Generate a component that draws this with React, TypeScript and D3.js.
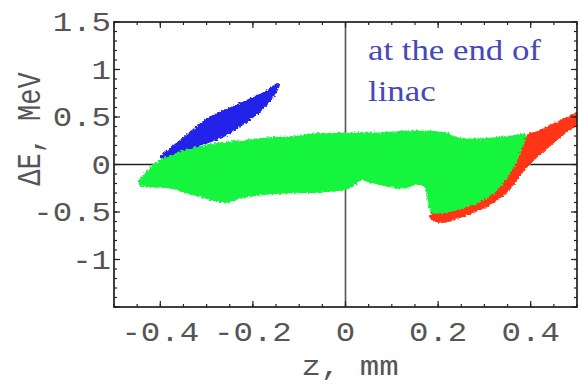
import React from 'react';
import * as d3 from 'd3';

// outlines of the three particle clouds, [z (mm), dE (MeV)]
const blueCloud: [number, number][] = [
  [-0.4, 0.084], [-0.378, 0.18], [-0.351, 0.285], [-0.299, 0.486], [-0.249, 0.602],
  [-0.206, 0.697], [-0.17, 0.781], [-0.148, 0.855], [-0.142, 0.845], [-0.157, 0.697],
  [-0.185, 0.549], [-0.222, 0.412], [-0.256, 0.306], [-0.299, 0.222], [-0.335, 0.169],
  [-0.378, 0.095], [-0.4, 0.063]
];

const redCloud: [number, number][] = [
  [0.389, 0.306], [0.417, 0.359], [0.449, 0.433], [0.482, 0.507], [0.499, 0.539],
  [0.499, 0.412], [0.475, 0.327], [0.439, 0.18], [0.402, 0.021], [0.381, -0.095],
  [0.353, -0.275], [0.31, -0.433], [0.26, -0.539], [0.213, -0.612], [0.187, -0.591],
  [0.181, -0.528], [0.202, -0.486], [0.245, -0.433], [0.288, -0.348], [0.327, -0.222],
  [0.357, -0.032], [0.374, 0.148]
];

const greenCloud: [number, number][] = [
  [-0.449, -0.19], [-0.432, -0.084], [-0.406, 0.032], [-0.357, 0.137], [-0.299, 0.211],
  [-0.228, 0.253], [-0.17, 0.285], [-0.099, 0.306], [-0.071, 0.327], [0.002, 0.338],
  [0.073, 0.338], [0.144, 0.359], [0.217, 0.338], [0.245, 0.285], [0.288, 0.275],
  [0.359, 0.306], [0.389, 0.317], [0.378, 0.127], [0.357, -0.084], [0.327, -0.275],
  [0.288, -0.401], [0.245, -0.475], [0.202, -0.517], [0.185, -0.507], [0.178, -0.38],
  [0.172, -0.253], [0.159, -0.211], [0.123, -0.253], [0.052, -0.19], [0.034, -0.169],
  [0.009, -0.253], [-0.056, -0.296], [-0.127, -0.306], [-0.185, -0.327], [-0.228, -0.359],
  [-0.256, -0.401], [-0.286, -0.38], [-0.342, -0.306], [-0.378, -0.253], [-0.415, -0.243],
  [-0.443, -0.222]
];

const xTickLabels = [-0.4, -0.2, 0, 0.2, 0.4];
const yTickLabels = [1.5, 1, 0.5, 0, -0.5, -1];
const xTitle = 'z, mm';
const yTitle = '\u0394E, MeV';
const note = ['at the end of', 'linac'];

const W = 581;
const H = 384;
const mono = '"Liberation Mono", "DejaVu Sans Mono", monospace';
const serif = '"Liberation Serif", "DejaVu Serif", serif';
const SX = 1.2; // the original is stretched sideways

export default function App() {
  const x = d3.scaleLinear().domain([-0.5, 0.5]).range([114, 577]);
  const y = d3.scaleLinear().domain([-1.5, 1.5]).range([307, 22]);
  const [x0, x1] = x.range();
  const [y0, y1] = y.range();

  const outline = d3.line<[number, number]>()
    .x(d => x(d[0]))
    .y(d => y(d[1]))
    .curve(d3.curveCatmullRomClosed.alpha(0.5));

  const xMajor = x.ticks(5);
  const xMinor = d3.range(-0.5, 0.5001, 0.05);
  const yMajor = d3.range(-1.5, 1.5001, 0.5);
  const yMinor = d3.range(-1.5, 1.5001, 0.1);

  const fmt = (v: number) => (Math.abs(v) < 1e-9 ? '0' : d3.format('')(+v.toFixed(2)).replace('\u2212', '-'));

  return (
    <svg width={W} height={H} style={{ position: 'absolute', left: 0, top: 0, background: '#fff' }}>
      <defs>
        <clipPath id="plot">
          <rect x={x0} y={y1} width={x1 - x0} height={y0 - y1} />
        </clipPath>
        <filter id="rough" x="-5%" y="-5%" width="110%" height="110%">
          <feTurbulence type="fractalNoise" baseFrequency="0.5" numOctaves="2" seed="3" />
          <feDisplacementMap in="SourceGraphic" scale="5" xChannelSelector="R" yChannelSelector="G" />
        </filter>
      </defs>

      {/* zero lines */}
      <line x1={x(0)} x2={x(0)} y1={y1} y2={y0} stroke="#555" strokeWidth={1.6} />
      <line x1={x0} x2={x1} y1={y(0)} y2={y(0)} stroke="#222" strokeWidth={1.6} />

      <g clipPath="url(#plot)">
        <g filter="url(#rough)">
          <path d={outline(blueCloud) ?? ''} fill="#2020e8" />
          <path d={outline(redCloud) ?? ''} fill="#ff3414" />
          <path d={outline(greenCloud) ?? ''} fill="#14f53c" />
        </g>
      </g>

      {/* frame with inward ticks on all sides */}
      <rect x={x0} y={y1} width={x1 - x0} height={y0 - y1} fill="none" stroke="#111" strokeWidth={1.6} />
      {xMinor.map((v, i) => (
        <g key={'xm' + i} stroke="#222" strokeWidth={1.2}>
          <line x1={x(v)} x2={x(v)} y1={y0} y2={y0 - 3} />
          <line x1={x(v)} x2={x(v)} y1={y1} y2={y1 + 3} />
        </g>
      ))}
      {xMajor.map((v, i) => (
        <g key={'xM' + i} stroke="#222" strokeWidth={1.2}>
          <line x1={x(v)} x2={x(v)} y1={y0} y2={y0 - 6} />
          <line x1={x(v)} x2={x(v)} y1={y1} y2={y1 + 6} />
        </g>
      ))}
      {yMinor.map((v, i) => (
        <g key={'ym' + i} stroke="#222" strokeWidth={1.2}>
          <line x1={x0} x2={x0 + 3} y1={y(v)} y2={y(v)} />
          <line x1={x1} x2={x1 - 3} y1={y(v)} y2={y(v)} />
        </g>
      ))}
      {yMajor.map((v, i) => (
        <g key={'yM' + i} stroke="#222" strokeWidth={1.2}>
          <line x1={x0} x2={x0 + 6} y1={y(v)} y2={y(v)} />
          <line x1={x1} x2={x1 - 6} y1={y(v)} y2={y(v)} />
        </g>
      ))}

      {/* tick labels */}
      <g fontFamily={mono} fontSize={27} fill="#555">
        {xTickLabels.map(v => (
          <text key={'xl' + v} transform={`translate(${x(v)},341) scale(${SX},1)`} textAnchor="middle">
            {fmt(v)}
          </text>
        ))}
        {yTickLabels.map(v => (
          <text key={'yl' + v} transform={`translate(111,${y(v) + 9}) scale(${SX},1)`} textAnchor="end">
            {fmt(v)}
          </text>
        ))}
        <text transform={`translate(350,375) scale(${SX},1)`} textAnchor="middle">{xTitle}</text>
        <text transform={`translate(40,129) scale(${SX},1) rotate(-90)`} textAnchor="middle">{yTitle}</text>
      </g>

      <g fontFamily={serif} fontSize={29} fill="#4848b8">
        {note.map((s, i) => (
          <text key={s} transform={`translate(368,${60 + i * 41}) scale(${SX},1)`}>{s}</text>
        ))}
      </g>
    </svg>
  );
}
